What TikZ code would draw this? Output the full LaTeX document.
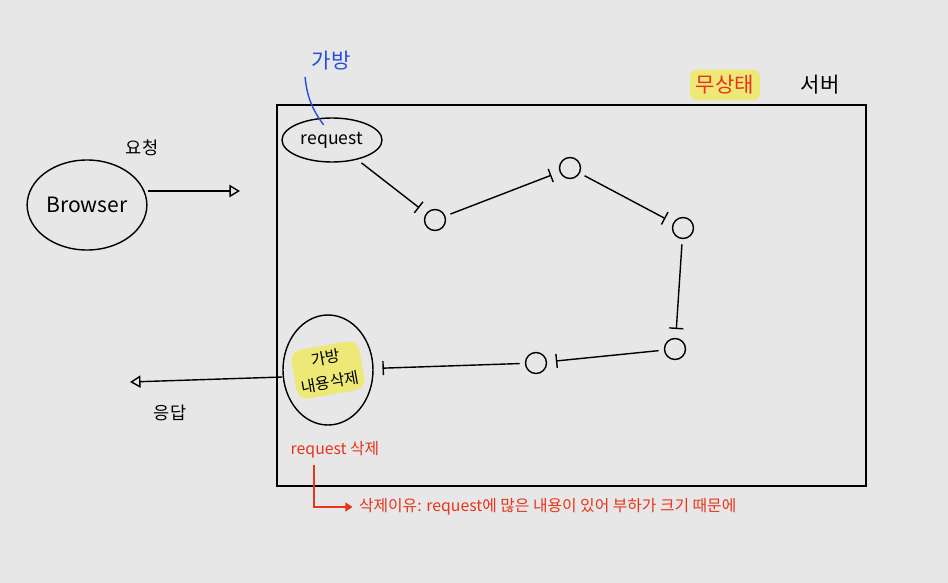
\documentclass[tikz,border=0pt]{standalone}
\usepackage{fontspec}
\setmainfont{Noto Sans CJK KR}
\usetikzlibrary{arrows.meta,shapes.geometric}
\definecolor{paper}{RGB}{231,231,231}
\definecolor{hlyellow}{RGB}{238,232,118}
\definecolor{penred}{RGB}{232,52,28}
\definecolor{penblue}{RGB}{38,78,222}
\begin{document}
\begin{tikzpicture}[line width=0.8pt,
    state/.style={draw,circle,inner sep=0,minimum size=0.42cm},
    blob/.style={draw,ellipse,inner sep=1pt},
    flow/.style={-{Bar[width=8pt]},shorten >=5pt,shorten <=3pt},
    big/.style={-{Triangle[open,length=6pt,width=7pt]}}]
    \fill[paper] (0,0) rectangle (18.96,-11.66);
    \useasboundingbox (0,0) rectangle (18.96,-11.66);

    % client side
    \node[blob,minimum width=2.3cm,minimum height=1.8cm,font=\large](browser) at (1.74, -4.1) {Browser};
    \node(req) at (2.84, -2.95) {요청};
    \coordinate(reqend) at (4.8, -3.82);
    \draw[big] (browser.east |- reqend) -- (reqend);
    \coordinate(resend) at (2.6, -7.64);
    \node(res) at (3.4, -8.25) {응답};

    % stateless server
    \node[draw,minimum width=11.78cm,minimum height=7.62cm](server) at (11.43, -5.91) {};
    \node[fill=hlyellow,text=penred,rounded corners=4pt,font=\large](stateless) at (14.5, -1.7) {무상태};
    \node[font=\large](srv) at (16.4, -1.7) {서버};

    \node[blob,minimum width=2.0cm,minimum height=0.88cm](request) at (6.64, -2.8) {request};
    \node[text=penblue,font=\large](bag) at (6.62, -1.22) {가방};
    \draw[penblue] (request.north west) ++(0.55,-0.02) to[bend left=15] (bag.south west);

    \node[state](s1) at (8.7, -4.4) {};
    \node[state](s2) at (11.4, -3.36) {};
    \node[state](s3) at (13.66, -4.56) {};
    \node[state](s4) at (13.5, -6.98) {};
    \node[state](s5) at (10.72, -7.26) {};
    \node[blob,minimum width=1.8cm,minimum height=2.2cm](delete) at (6.56, -7.4) {};
    \node[fill=hlyellow,rotate=10,align=center,inner sep=3pt,rounded corners=6pt,font=\small](deltext) at (delete) {가방\\[3pt]내용삭제};

    \draw[flow] (request) -- (s1);
    \draw[flow] (s1) -- (s2);
    \draw[flow] (s2) -- (s3);
    \draw[flow] (s3) -- (s4);
    \draw[flow] (s4) -- (s5);
    \draw[flow] (s5) -- (delete);

    \draw[big] (delete.west |- 0,-7.54) -- (resend);

    % note
    \node[text=penred,font=\small](delnote) at (6.7, -9.0) {request 삭제};
    \node[text=penred,font=\small,anchor=west](reason) at (7.05, -10.14) {삭제이유: request에 많은 내용이 있어 부하가 크기 때문에};
    \draw[penred,-{Triangle[length=4pt,width=5pt]}] (delnote.south west) ++(0.6,0) |- (reason.west);
\end{tikzpicture}
\end{document}
